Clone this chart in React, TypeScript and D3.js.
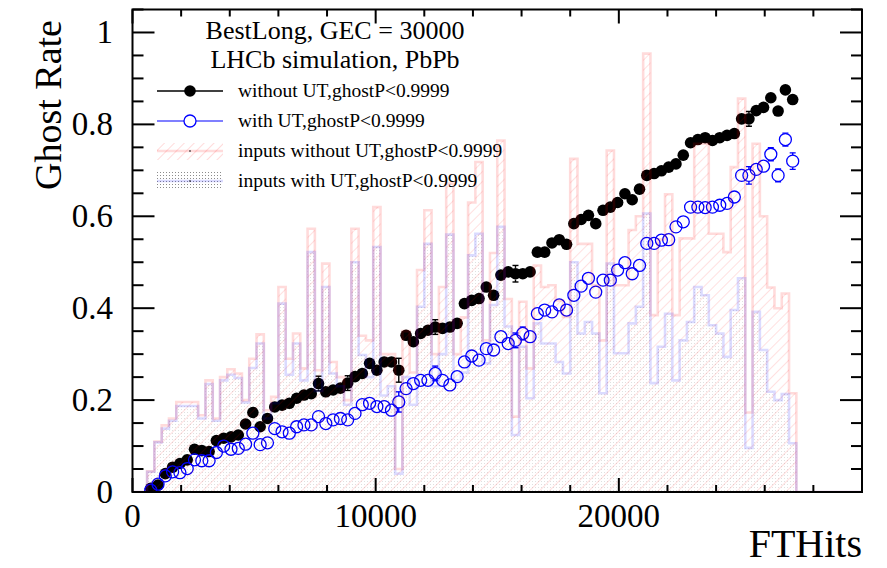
import { scaleLinear, area as d3Area, line as d3Line, curveStepAfter, range } from "d3";

// Histogram binning of FTHits (bins of 300, first filled bin starts at 600)
const BIN_WIDTH = 300;
const FIRST_BIN = 600;
const X_MAX = 30000;
const Y_MAX = 1.05;

// Ghost rate without UT (black filled)
const ghostNoUT = [
  0.008, 0.015, 0.04, 0.054, 0.062, 0.07, 0.093, 0.09, 0.088, 0.112,
  0.117, 0.12, 0.124, 0.148, 0.173, 0.142, 0.16, 0.185, 0.189, 0.193,
  0.204, 0.211, 0.214, 0.236, 0.218, 0.222, 0.226, 0.237, 0.251, 0.258,
  0.28, 0.265, 0.283, 0.283, 0.265, 0.341, 0.327, 0.345, 0.352, 0.359,
  0.356, 0.359, 0.367, 0.41, 0.417, 0.421, 0.446, 0.428, 0.472, 0.479,
  0.475, 0.475, 0.479, 0.522, 0.522, 0.542, 0.549, 0.539, 0.584, 0.593,
  0.602, 0.584, 0.613, 0.62, 0.63, 0.649, 0.636, 0.659, 0.689, 0.693,
  0.699, 0.707, 0.714, 0.733, 0.76, 0.767, 0.771, 0.765, 0.771, 0.776,
  0.78, 0.812, 0.812, 0.83, 0.837, 0.858, 0.829, 0.875, 0.854,
];
const errNoUT = [
  0.006, 0.006, 0.006, 0.006, 0.006, 0.006, 0.006, 0.006, 0.006, 0.006,
  0.006, 0.006, 0.006, 0.006, 0.006, 0.006, 0.006, 0.006, 0.006, 0.006,
  0.006, 0.006, 0.006, 0.016, 0.006, 0.006, 0.006, 0.016, 0.006, 0.006,
  0.006, 0.006, 0.006, 0.006, 0.026, 0.006, 0.006, 0.006, 0.006, 0.016,
  0.006, 0.006, 0.006, 0.006, 0.006, 0.006, 0.006, 0.006, 0.006, 0.006,
  0.018, 0.006, 0.006, 0.006, 0.006, 0.006, 0.006, 0.006, 0.006, 0.006,
  0.006, 0.006, 0.006, 0.006, 0.006, 0.006, 0.006, 0.006, 0.006, 0.006,
  0.006, 0.006, 0.006, 0.006, 0.006, 0.006, 0.006, 0.006, 0.006, 0.006,
  0.006, 0.008, 0.016, 0.008, 0.008, 0.008, 0.008, 0.01, 0.01,
];

// Ghost rate with UT (blue open)
const ghostUT = [
  0.004, 0.017, 0.035, 0.044, 0.042, 0.051, 0.07, 0.068, 0.068, 0.086,
  0.1, 0.093, 0.095, 0.104, 0.128, 0.103, 0.107, 0.138, 0.131, 0.128,
  0.142, 0.146, 0.146, 0.164, 0.149, 0.157, 0.16, 0.157, 0.171, 0.19,
  0.193, 0.186, 0.186, 0.178, 0.196, 0.225, 0.236, 0.243, 0.243, 0.258,
  0.243, 0.233, 0.251, 0.283, 0.296, 0.287, 0.312, 0.309, 0.338, 0.323,
  0.33, 0.345, 0.338, 0.388, 0.396, 0.392, 0.407, 0.396, 0.428, 0.448,
  0.465, 0.435, 0.461, 0.461, 0.483, 0.499, 0.475, 0.493, 0.541, 0.541,
  0.548, 0.549, 0.577, 0.588, 0.62, 0.62, 0.619, 0.62, 0.624, 0.628,
  0.642, 0.689, 0.689, 0.702, 0.709, 0.735, 0.689, 0.767, 0.72,
];
const errUT = [
  0.006, 0.006, 0.006, 0.006, 0.006, 0.006, 0.006, 0.006, 0.006, 0.006,
  0.006, 0.006, 0.006, 0.006, 0.006, 0.006, 0.006, 0.006, 0.006, 0.006,
  0.006, 0.006, 0.006, 0.006, 0.006, 0.006, 0.006, 0.006, 0.006, 0.006,
  0.006, 0.006, 0.006, 0.006, 0.022, 0.006, 0.006, 0.006, 0.006, 0.016,
  0.006, 0.006, 0.006, 0.006, 0.006, 0.006, 0.006, 0.006, 0.006, 0.006,
  0.016, 0.014, 0.006, 0.006, 0.006, 0.006, 0.006, 0.006, 0.006, 0.006,
  0.006, 0.006, 0.006, 0.006, 0.006, 0.006, 0.006, 0.006, 0.006, 0.006,
  0.006, 0.006, 0.006, 0.006, 0.006, 0.006, 0.006, 0.006, 0.006, 0.006,
  0.006, 0.008, 0.019, 0.008, 0.008, 0.014, 0.014, 0.014, 0.018,
];

// Scaled input distributions (step histograms)
const inputsNoUT = [
  0.045, 0.11, 0.145, 0.16, 0.196, 0.196, 0.196, 0.167, 0.243, 0.16,
  0.25, 0.267, 0.258, 0.2, 0.29, 0.343, 0.178, 0.207, 0.446, 0.29,
  0.345, 0.269, 0.573, 0.265, 0.497, 0.283, 0.25, 0.2, 0.573, 0.34,
  0.33, 0.62, 0.3, 0.3, 0.05, 0.35, 0.26, 0.483, 0.613, 0.3,
  0.446, 0.671, 0.3, 0.38, 0.63, 0.718, 0.33, 0.52, 0.765, 0.42,
  0.164, 0.414, 0.269, 0.493, 0.446, 0.45, 0.417, 0.381, 0.725, 0.54,
  0.54, 0.45, 0.33, 0.743, 0.45, 0.45, 0.57, 0.6, 0.954, 0.385,
  0.55, 0.648, 0.385, 0.552, 0.552, 0.758, 0.758, 0.562, 0.562, 0.522,
  0.707, 0.856, 0.173, 0.758, 0.6, 0.445, 0.4, 0.432, 0.215,
];
const inputsUT = [
  0.044, 0.108, 0.138, 0.155, 0.187, 0.187, 0.187, 0.16, 0.235, 0.155,
  0.243, 0.255, 0.248, 0.195, 0.27, 0.323, 0.16, 0.193, 0.41, 0.255,
  0.323, 0.243, 0.522, 0.22, 0.446, 0.258, 0.23, 0.19, 0.5, 0.298,
  0.25, 0.533, 0.21, 0.23, 0.04, 0.25, 0.19, 0.403, 0.54, 0.23,
  0.3, 0.56, 0.243, 0.26, 0.515, 0.562, 0.28, 0.407, 0.577, 0.36,
  0.124, 0.316, 0.204, 0.367, 0.323, 0.323, 0.283, 0.258, 0.5, 0.345,
  0.37, 0.345, 0.215, 0.497, 0.302, 0.302, 0.367, 0.403, 0.606, 0.237,
  0.316, 0.388, 0.243, 0.33, 0.37, 0.446, 0.428, 0.363, 0.345, 0.294,
  0.396, 0.465, 0.096, 0.392, 0.309, 0.218, 0.2, 0.213, 0.106,
];

const Y_TICKS = [0, 0.2, 0.4, 0.6, 0.8, 1];
const X_TICKS = [0, 10000, 20000];

const W = 887;
const H = 568;
const FRAME = { left: 132.5, right: 862, top: 9.5, bottom: 492 };
const FONT = "'Liberation Serif', 'DejaVu Serif', serif";
const R_FULL = 5.8;
const R_OPEN = 6;

const x = scaleLinear().domain([0, X_MAX]).range([FRAME.left, FRAME.right]);
const y = scaleLinear().domain([0, Y_MAX]).range([FRAME.bottom, FRAME.top]);

// full 0..X_MAX histogram with empty bins outside the filled range
const allEdges = range(0, X_MAX, BIN_WIDTH);
function histPoints(vals: number[]): [number, number][] {
  const pts = allEdges.map((e): [number, number] => {
    const k = Math.round((e - FIRST_BIN) / BIN_WIDTH);
    return [e, k >= 0 && k < vals.length ? vals[k] : 0];
  });
  pts.push([X_MAX, 0]);
  return pts;
}

const histArea = d3Area<[number, number]>()
  .curve(curveStepAfter)
  .x((d) => x(d[0]))
  .y0(y(0))
  .y1((d) => y(d[1]));
const histLine = d3Line<[number, number]>()
  .curve(curveStepAfter)
  .x((d) => x(d[0]))
  .y((d) => y(d[1]));

const centers = ghostNoUT.map((_, k) => FIRST_BIN + (k + 0.5) * BIN_WIDTH);

// ROOT style: the bar is only drawn where it sticks out of the marker
function ErrorBars({ vals, errs, color, r }: { vals: number[]; errs: number[]; color: string; r: number }) {
  return (
    <g stroke={color} strokeWidth={1.4}>
      {vals.map((v, k) => {
        const cx = x(centers[k]);
        const cy = y(v);
        const lo = y(v - errs[k]);
        const hi = y(v + errs[k]);
        if (lo - cy <= r) return null;
        return (
          <g key={k}>
            <line x1={cx} x2={cx} y1={cy + r} y2={lo} />
            <line x1={cx} x2={cx} y1={cy - r} y2={hi} />
            <line x1={cx - 3} x2={cx + 3} y1={lo} y2={lo} />
            <line x1={cx - 3} x2={cx + 3} y1={hi} y2={hi} />
          </g>
        );
      })}
    </g>
  );
}

export default function App() {
  const pinkPts = histPoints(inputsNoUT);
  const bluePts = histPoints(inputsUT);
  const yMinor = range(0, Y_MAX + 1e-9, 0.05);
  const xMinor = range(0, X_MAX, 2000);

  const legendRows = [91, 121, 151, 181];

  return (
    <svg
      width={W}
      height={H}
      viewBox={`0 0 ${W} ${H}`}
      style={{ position: "absolute", left: 0, top: 0, background: "#fff" }}
      fontFamily={FONT}
    >
      <defs>
        <pattern id="hatch" patternUnits="userSpaceOnUse" width={7} height={7} patternTransform="rotate(45)">
          <line x1={0} y1={0} x2={0} y2={7} stroke="rgba(255,0,0,0.2)" strokeWidth={1.2} />
        </pattern>
        <pattern id="dots" patternUnits="userSpaceOnUse" width={3} height={3}>
          <rect x={1} y={1} width={1} height={1} fill="rgba(0,0,0,0.12)" />
        </pattern>
        <pattern id="dotsLegend" patternUnits="userSpaceOnUse" width={3} height={3}>
          <rect x={1} y={1} width={1} height={1} fill="rgba(0,0,0,0.45)" />
        </pattern>
        <pattern id="hatchLegend" patternUnits="userSpaceOnUse" width={7} height={7} patternTransform="rotate(45)">
          <line x1={0} y1={0} x2={0} y2={7} stroke="rgba(255,0,0,0.2)" strokeWidth={1.4} />
        </pattern>
        <clipPath id="frame">
          <rect x={FRAME.left} y={FRAME.top} width={FRAME.right - FRAME.left} height={FRAME.bottom - FRAME.top} />
        </clipPath>
      </defs>

      <g clipPath="url(#frame)">
        {/* markers first, histograms drawn over them like the original */}
        <ErrorBars vals={ghostNoUT} errs={errNoUT} color="#000" r={R_FULL} />
        {ghostNoUT.map((v, k) => (
          <circle key={k} cx={x(centers[k])} cy={y(v)} r={R_FULL} fill="#000" />
        ))}
        <ErrorBars vals={ghostUT} errs={errUT} color="#0000ff" r={R_OPEN} />
        {ghostUT.map((v, k) => (
          <circle key={k} cx={x(centers[k])} cy={y(v)} r={R_OPEN} fill="none" stroke="#0000ff" strokeWidth={1.3} />
        ))}

        <path d={histArea(bluePts) ?? ""} fill="url(#dots)" />
        <path d={histArea(pinkPts) ?? ""} fill="url(#hatch)" />
        <path d={histLine(pinkPts) ?? ""} fill="none" stroke="rgba(255,0,0,0.14)" strokeWidth={2.6} />
        <path d={histLine(bluePts) ?? ""} fill="none" stroke="rgba(0,0,255,0.14)" strokeWidth={2.6} />
      </g>

      {/* frame */}
      <rect
        x={FRAME.left}
        y={FRAME.top}
        width={FRAME.right - FRAME.left}
        height={FRAME.bottom - FRAME.top}
        fill="none"
        stroke="#000"
        strokeWidth={2}
      />

      {/* ticks on all four sides */}
      <g stroke="#000" strokeWidth={2}>
        {yMinor.map((t, i) => {
          const major = Y_TICKS.some((m) => Math.abs(m - t) < 1e-6);
          const len = major ? 22 : 11;
          return (
            <g key={i}>
              <line x1={FRAME.left} x2={FRAME.left + len} y1={y(t)} y2={y(t)} />
              <line x1={FRAME.right} x2={FRAME.right - len} y1={y(t)} y2={y(t)} />
            </g>
          );
        })}
        {xMinor.map((t, i) => {
          const major = X_TICKS.includes(t);
          const len = major ? 14 : 7;
          return (
            <g key={i}>
              <line x1={x(t)} x2={x(t)} y1={FRAME.bottom} y2={FRAME.bottom - len} />
              <line x1={x(t)} x2={x(t)} y1={FRAME.top} y2={FRAME.top + len} />
            </g>
          );
        })}
      </g>

      {/* tick labels */}
      <g fontSize={33} fill="#000">
        {Y_TICKS.map((t) => (
          <text key={t} x={113} y={y(t) + 11} textAnchor="end">
            {String(t)}
          </text>
        ))}
        {X_TICKS.map((t) => (
          <text key={t} x={x(t)} y={527} textAnchor="middle">
            {String(t)}
          </text>
        ))}
      </g>

      {/* axis titles */}
      <text x={862} y={557} fontSize={40} textAnchor="end">
        FTHits
      </text>
      <text transform="translate(61,20) rotate(-90)" fontSize={38} textAnchor="end">
        Ghost Rate
      </text>

      {/* legend */}
      <g fontSize={26} textAnchor="middle">
        <text x={335} y={39}>BestLong, GEC = 30000</text>
        <text x={335} y={68}>LHCb simulation, PbPb</text>
      </g>
      <g fontSize={19.5}>
        <line x1={157} x2={223} y1={legendRows[0]} y2={legendRows[0]} stroke="#000" strokeWidth={1.5} />
        <circle cx={190} cy={legendRows[0]} r={R_FULL} fill="#000" />
        <text x={238} y={legendRows[0] + 6}>without UT,ghostP&lt;0.9999</text>

        <line x1={157} x2={223} y1={legendRows[1]} y2={legendRows[1]} stroke="#5555ff" strokeWidth={1.5} />
        <circle cx={190} cy={legendRows[1]} r={R_OPEN} fill="#fff" stroke="#0000ff" strokeWidth={1.3} />
        <text x={238} y={legendRows[1] + 6}>with UT,ghostP&lt;0.9999</text>

        <rect x={157} y={legendRows[2] - 8} width={66} height={17} fill="url(#hatchLegend)" />
        <line x1={157} x2={223} y1={legendRows[2]} y2={legendRows[2]} stroke="rgba(255,0,0,0.14)" strokeWidth={2.6} />
        <circle cx={190} cy={legendRows[2]} r={0.8} fill="#000" />
        <text x={238} y={legendRows[2] + 6}>inputs without UT,ghostP&lt;0.9999</text>

        <rect x={157} y={legendRows[3] - 9} width={66} height={18} fill="url(#dotsLegend)" />
        <line x1={157} x2={223} y1={legendRows[3]} y2={legendRows[3]} stroke="rgba(0,0,255,0.14)" strokeWidth={2.6} />
        <circle cx={190} cy={legendRows[3]} r={0.8} fill="#000" />
        <text x={238} y={legendRows[3] + 6}>inputs with UT,ghostP&lt;0.9999</text>
      </g>
    </svg>
  );
}
